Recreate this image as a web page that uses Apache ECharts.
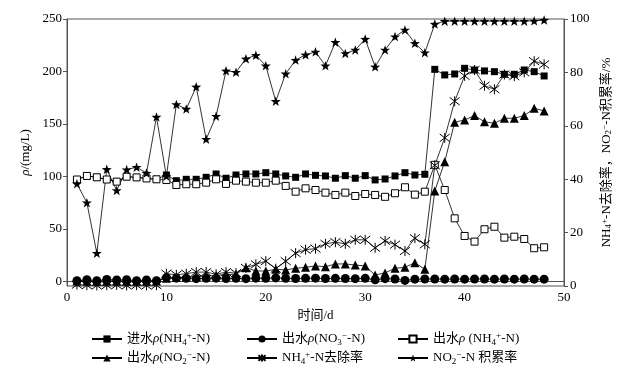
<!DOCTYPE html>
<html><head><meta charset="utf-8">
<script src="https://cdn.jsdelivr.net/npm/echarts@6/dist/echarts.min.js"></script>
<style>html,body{margin:0;padding:0;background:#fff}#c{width:629px;height:371px}</style>
</head><body><div id="c"></div>
<script>
var days = [1,2,3,4,5,6,7,8,9,10,11,12,13,14,15,16,17,18,19,20,21,22,23,24,25,26,27,28,29,30,31,32,33,34,35,36,37,38,39,40,41,42,43,44,45,46,47,48];
var inNH4 = [97,100.4,99.1,97,95,99.7,99,98,97.2,101.3,95.9,97.2,97.2,99.1,102.3,98.2,101.3,102.3,102.3,103.5,102.3,100.4,99.1,102.3,101,100.4,98.2,100.7,98.2,100.7,96.6,97.5,100.4,103.5,101.3,102,202,196.7,197.6,203,201.4,200.5,199.8,197.3,197.3,201.4,199.8,195.7];
var outNO3 = [0.5,1.5,0.5,1.8,1.2,1.5,0.6,1.3,0.5,3.5,3,2.8,2.5,2.8,3,2.6,2.8,2.5,3,2.8,3.2,2.8,2.6,2.8,3,2.6,2.8,2.6,2.5,2.8,1.5,2.5,2.2,0.8,2,2.2,2.2,2,2.2,2,2.2,2.2,2,2.2,2,2.2,2,2];
var outNH4 = [97,100.4,99.1,97,95,99.7,99,98,97.2,96.5,91.8,92.5,92.5,94,97.2,92.8,95.9,95,94,94,95.9,90.9,85.4,88.6,87,84.5,82.3,84.5,81.3,83.2,82.3,80.5,83.9,89.6,82.6,85.4,111,87,60,43.2,37.8,49.6,52,41.6,42.5,40.3,31.5,32.4];
var outNO2 = [0.3,0.3,0.3,0.3,0.3,0.3,0.3,0.3,0.3,3,3.5,4,4.5,5,5.5,6.5,6.7,13,9.8,9.8,11.5,10.8,12.4,13.3,14.6,13.9,16.5,16.5,15.5,14.6,6,8,12.4,13.3,17.7,11.4,86,114,151.5,153.8,157.9,152.1,150.6,155.4,155.4,157.9,164.9,162.3];
var removalNH4 = [0.5,0.3,0.2,0.3,0.4,0.2,0.3,0.2,0.3,4.6,4.2,4.6,5.2,5.2,4.4,5.2,4.8,6.8,8.1,9.3,6.5,9.3,12.3,13.6,14,15.8,16.4,15.8,17.3,17.3,14.3,16.9,15.5,13.1,17.9,15.6,45.2,55.5,69.2,78.7,80.9,75,73.7,79.2,78.6,80,84.2,83];
var accumNO2 = [38.3,31.2,12.3,43.7,35.8,43.6,44.5,42.3,63.3,41.1,68,66.3,74.6,55,63.6,80.6,80.1,85.1,86.4,82.5,69.2,79.5,84.6,86.6,87.7,82.5,91.3,87.1,88.4,92.5,82.1,88.4,93.4,95.9,90.9,87.4,98.1,99.2,99.2,99.2,99.2,99.2,99.2,99.2,99.2,99.2,99.3,99.6];
var xTicks = [0,10,20,30,40,50];
var leftTicks = [0,50,100,150,200,250];
var rightTicks = [0,20,40,60,80,100];
var seriesNames = ['进水ρ(NH4+-N)','出水ρ(NO3−-N)','出水ρ (NH4+-N)','出水ρ(NO2−-N)','NH4+-N去除率','NO2−-N积累率'];
var richNames = {
  '进水ρ(NH4+-N)': '进水{i|ρ}(NH{sub|4}{sup|+}-N)',
  '出水ρ(NO3−-N)': '出水{i|ρ}(NO{sub|3}{sup|−}-N)',
  '出水ρ (NH4+-N)': '出水{i|ρ} (NH{sub|4}{sup|+}-N)',
  '出水ρ(NO2−-N)': '出水{i|ρ}(NO{sub|2}{sup|−}-N)',
  'NH4+-N去除率': 'NH{sub|4}{sup|+}-N去除率',
  'NO2−-N积累率': 'NO{sub|2}{sup|−}-N 积累率'
};

var FONT = "'Liberation Serif','Noto Sans CJK SC',serif";
var rich = {
  i: {fontFamily: FONT, fontSize: 13, fontStyle: 'italic', lineHeight: 16, color: '#000'},
  sub: {fontFamily: FONT, fontSize: 9, verticalAlign: 'bottom', lineHeight: 10, color: '#000'},
  sup: {fontFamily: FONT, fontSize: 9, verticalAlign: 'top', lineHeight: 10, color: '#000'}
};
var STAR = 'path://M0,-100 L23.5,-32.4 L95.1,-30.9 L38,12.4 L58.8,80.9 L0,40 L-58.8,80.9 L-38,12.4 L-95.1,-30.9 L-23.5,-32.4 Z';
var ASTER = 'path://M0,0 L10,10 M10,0 L0,10 M5,-1.5 L5,11.5';

function zip(v) { return days.map(function (d, k) { return [d, v[k]]; }); }

var chart = echarts.init(document.getElementById('c'), null, {renderer: 'canvas'});
var axisText = {fontFamily: FONT, fontSize: 13, color: '#000'};
var legendPos = [[86,326],[241,326],[392,326],[86,345],[241,345],[392,345]];
var option = {
  animation: false,
  backgroundColor: '#fff',
  textStyle: {fontFamily: FONT},
  grid: {left: 67, right: 65, top: 19, bottom: 85, show: true, borderColor: '#555', borderWidth: 1},
  legend: seriesNames.map(function (n, k) {
    return {
      data: [n], left: legendPos[k][0], top: legendPos[k][1],
      itemWidth: 30, itemHeight: 9, itemGap: 0,
      formatter: function (name) { return richNames[name]; },
      textStyle: {fontFamily: FONT, fontSize: 13, color: '#000', lineHeight: 16, rich: rich}
    };
  }),
  xAxis: {
    type: 'value', min: 0, max: 50, interval: 10,
    name: '时间/d', nameLocation: 'middle', nameGap: 23,
    nameTextStyle: {fontFamily: FONT, fontSize: 13, color: '#000'},
    axisLine: {lineStyle: {color: '#555', width: 1}},
    axisTick: {inside: true, length: 4, lineStyle: {color: '#555'}},
    axisLabel: Object.assign({margin: 5}, axisText),
    splitLine: {show: false}
  },
  yAxis: [{
    type: 'value', min: -4.5, max: 250, splitNumber: 5,
    name: '{i|ρ}/(mg/L)', nameLocation: 'middle', nameGap: 31, nameRotate: 90,
    nameTextStyle: {fontFamily: FONT, fontSize: 13, color: '#000', rich: rich},
    axisLine: {show: true, lineStyle: {color: '#555', width: 1}},
    axisTick: {show: true, length: 4, lineStyle: {color: '#555'}},
    axisLabel: Object.assign({margin: 5, showMinLabel: false, formatter: function (v) { return leftTicks.indexOf(v) >= 0 ? String(v) : ''; }}, axisText),
    splitLine: {show: false}
  }, {
    type: 'value', min: 0, max: 100, interval: 20, position: 'right',
    name: 'NH{sub|4}{sup|+}-N去除率，NO{sub|2}{sup|−}-N积累率/%', nameLocation: 'middle', nameGap: 31, nameRotate: 90,
    nameTextStyle: {fontFamily: FONT, fontSize: 13, color: '#000', rich: rich},
    axisLine: {show: true, lineStyle: {color: '#555', width: 1}},
    axisTick: {show: true, length: 4, lineStyle: {color: '#555'}},
    axisLabel: Object.assign({margin: 6, formatter: function (v) { return rightTicks.indexOf(v) >= 0 ? String(v) : ''; }}, axisText),
    splitLine: {show: false}
  }],
  series: [
    {name: seriesNames[0], type: 'line', yAxisIndex: 0, data: zip(inNH4), symbol: 'rect', symbolSize: 7,
     itemStyle: {color: '#000'}, lineStyle: {color: '#000', width: 0.8}},
    {name: seriesNames[1], type: 'line', yAxisIndex: 0, data: zip(outNO3), symbol: 'circle', symbolSize: 9,
     itemStyle: {color: '#000'}, lineStyle: {color: '#000', width: 0.8}},
    {name: seriesNames[2], type: 'line', yAxisIndex: 0, data: zip(outNH4), symbol: 'rect', symbolSize: 7,
     itemStyle: {color: '#fff', borderColor: '#000', borderWidth: 1}, lineStyle: {color: '#000', width: 0.8}},
    {name: seriesNames[3], type: 'line', yAxisIndex: 0, data: zip(outNO2), symbol: 'triangle', symbolSize: 9,
     itemStyle: {color: '#000'}, lineStyle: {color: '#000', width: 0.8}},
    {name: seriesNames[4], type: 'line', yAxisIndex: 1, data: zip(removalNH4), symbol: ASTER, symbolSize: 10,
     itemStyle: {color: 'rgba(0,0,0,0)', borderColor: '#000', borderWidth: 1}, lineStyle: {color: '#000', width: 0.8}},
    {name: seriesNames[5], type: 'line', yAxisIndex: 1, data: zip(accumNO2), symbol: STAR, symbolSize: [10, 9.5],
     itemStyle: {color: '#000'}, lineStyle: {color: '#000', width: 0.8}}
  ]
};
chart.setOption(option);
</script>
</body></html>
